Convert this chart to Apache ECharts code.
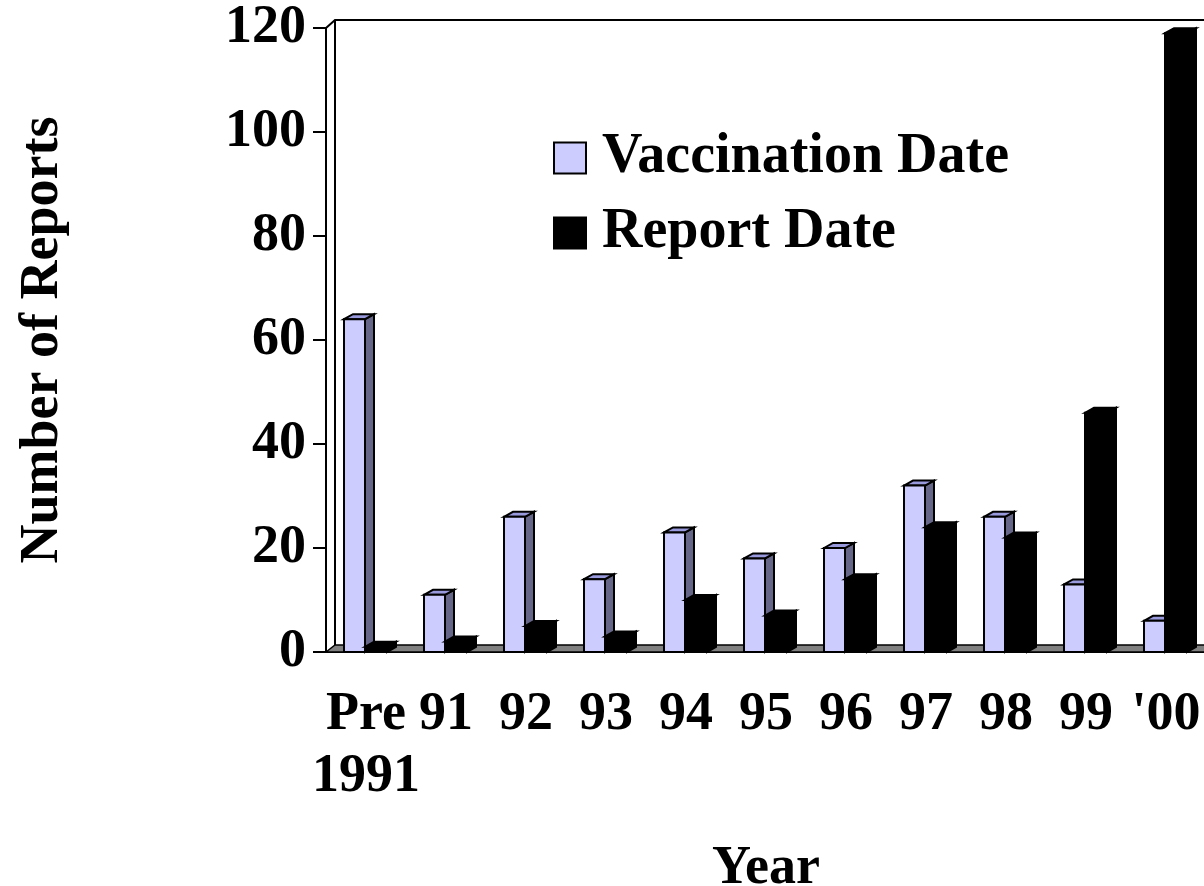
<!DOCTYPE html>
<html>
<head>
<meta charset="utf-8">
<script src="https://cdn.jsdelivr.net/npm/echarts@6/dist/echarts.min.js"></script>
<style>html,body{margin:0;padding:0;background:#fff;}#chart{width:1204px;height:886px;}</style>
</head>
<body>
<div id="chart"></div>
<script>
const categories = ['Pre\n1991', '91', '92', '93', '94', '95', '96', '97', '98', '99', "'00"];
const vaccinationDate = [64, 11, 26, 14, 23, 18, 20, 32, 26, 13, 6];
const reportDate = [1, 2, 5, 3, 10, 7, 14, 24, 22, 46, 119];
const yTicks = [0, 20, 40, 60, 80, 100, 120];

const FONT = '"Liberation Serif", "Times New Roman", serif';
const DX = 9, DY = -5;

function makeRender(kind, colors) {
  return function (params, api) {
    const idx = api.value(0);
    const val = api.value(1);
    const base = api.coord([idx, 0]);
    const top = api.coord([idx, val]);
    const bw = api.size([1, 0])[0];
    const s = bw / 80;
    const x0 = base[0] - bw / 2 + (kind === 0 ? 18 : 39) * s;
    const w = (kind === 0 ? 21 : 22) * s;
    const yb = base[1], yt = top[1];
    const stroke = {stroke: '#000', lineWidth: 2, lineJoin: 'miter'};
    return {
      type: 'group',
      children: [
        {type: 'polygon', shape: {points: [[x0 + w, yt], [x0 + w + DX, yt + DY], [x0 + w + DX, yb + DY], [x0 + w, yb]]},
         style: Object.assign({fill: colors.side}, stroke)},
        {type: 'polygon', shape: {points: [[x0, yt], [x0 + DX, yt + DY], [x0 + w + DX, yt + DY], [x0 + w, yt]]},
         style: Object.assign({fill: colors.top}, stroke)},
        {type: 'rect', shape: {x: x0, y: yt, width: w, height: yb - yt},
         style: Object.assign({fill: colors.front}, stroke)}
      ]
    };
  };
}

const chart = echarts.init(document.getElementById('chart'), null, {renderer: 'canvas'});
const option = {
  animation: false,
  backgroundColor: '#fff',
  grid: {left: 326, top: 28, width: 880, bottom: 234, containLabel: false, outerBoundsMode: 'none'},
  legend: {
    orient: 'vertical', left: 548, top: 125,
    itemWidth: 32, itemHeight: 31, itemGap: 19,
    icon: 'rect',
    itemStyle: {borderColor: '#000', borderWidth: 2},
    textStyle: {fontFamily: FONT, fontWeight: 'bold', fontSize: 56, color: '#000', lineHeight: 40, padding: [0, 0, 0, 11]},
    data: ['Vaccination Date', 'Report Date']
  },
  xAxis: {
    type: 'category', data: categories,
    name: 'Year', nameLocation: 'middle', nameGap: 190,
    nameTextStyle: {fontFamily: FONT, fontWeight: 'bold', fontSize: 54, color: '#000'},
    axisLine: {lineStyle: {color: '#000', width: 2}},
    axisTick: {length: 10, lineStyle: {color: '#000', width: 2}},
    axisLabel: {interval: 0, margin: 32, fontFamily: FONT, fontWeight: 'bold', fontSize: 54, color: '#000', lineHeight: 62}
  },
  yAxis: {
    type: 'value', min: 0, max: 120, interval: 20,
    name: 'Number of Reports', nameLocation: 'middle', nameRotate: 90, nameGap: 256,
    nameTextStyle: {fontFamily: FONT, fontWeight: 'bold', fontSize: 54, color: '#000'},
    axisLine: {show: true, lineStyle: {color: '#000', width: 2}},
    axisTick: {show: true, length: 13, lineStyle: {color: '#000', width: 2}},
    splitLine: {show: false},
    axisLabel: {margin: 20, fontFamily: FONT, fontWeight: 'bold', fontSize: 54, color: '#000',
      formatter: function (v) { return yTicks.indexOf(v) >= 0 ? String(v) : ''; }}
  },
  series: [
    {name: 'Vaccination Date', type: 'custom', z: 3,
     itemStyle: {color: '#CCCCFF', borderColor: '#000', borderWidth: 2},
     renderItem: makeRender(0, {front: '#CCCCFF', top: '#9999DD', side: '#666688'}),
     encode: {x: 0, y: 1},
     data: vaccinationDate.map((v, i) => [i, v])},
    {name: 'Report Date', type: 'custom', z: 4,
     itemStyle: {color: '#000000', borderColor: '#000', borderWidth: 2},
     renderItem: makeRender(1, {front: '#000', top: '#000', side: '#000'}),
     encode: {x: 0, y: 1},
     data: reportDate.map((v, i) => [i, v])}
  ]
};
chart.setOption(option);

// floor and back wall decorations derived from the axes
const p0 = chart.convertToPixel({gridIndex: 0}, [0, 0]);
const pTop = chart.convertToPixel({gridIndex: 0}, [0, 120]);
const pLast = chart.convertToPixel({gridIndex: 0}, [categories.length - 1, 0]);
const bw = (pLast[0] - p0[0]) / (categories.length - 1);
const xl = p0[0] - bw / 2, xr = pLast[0] + bw / 2, yb = p0[1], yt = pTop[1];
const WX = 9, WY = -7;
chart.setOption({
  graphic: [
    {type: 'polygon', z: 1, shape: {points: [[xl, yb], [xl + WX, yb + WY], [xr + WX, yb + WY], [xr, yb]]},
     style: {fill: '#808080', stroke: '#000', lineWidth: 1.5}},
    {type: 'polyline', z: 1, shape: {points: [[xl, yt], [xl + WX, yt + WY - 1], [xr + 20, yt + WY - 1]]},
     style: {fill: null, stroke: '#000', lineWidth: 2}},
    {type: 'line', z: 1, shape: {x1: xl + WX, y1: yt + WY - 1, x2: xl + WX, y2: yb + WY},
     style: {stroke: '#000', lineWidth: 2}}
  ]
});
</script>
</body>
</html>
